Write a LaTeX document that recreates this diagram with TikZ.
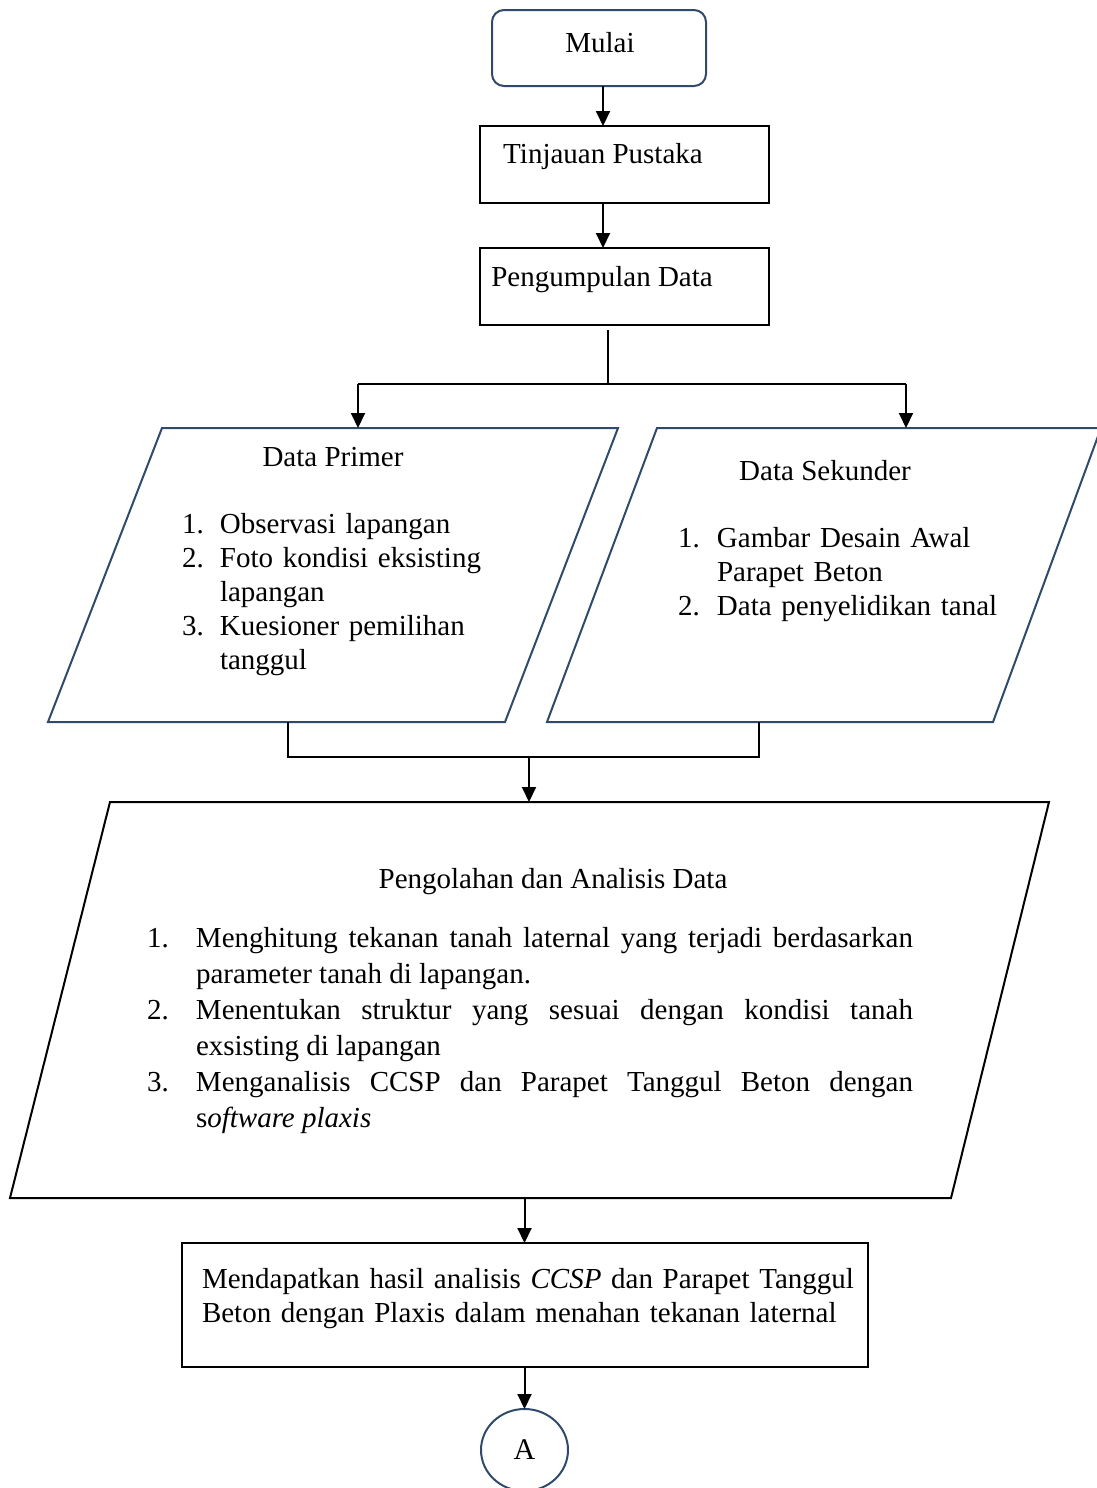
\documentclass[tikz,border=0pt]{standalone}
\usepackage{fontspec}
\setmainfont{Liberation Serif}
\usetikzlibrary{arrows.meta,shapes.geometric}
\definecolor{frameblue}{HTML}{2F4A6B}
% numbered entry with hanging indent: #1 label width, #2 label
\newcommand\itemlbl[2]{\hangindent=#1\hangafter=1\noindent\makebox[#1][l]{#2}}
\begin{document}
\begin{tikzpicture}[x=0.5pt,y=-0.5pt,
  every node/.style={inner sep=0pt,outer sep=0pt},
  line/.style={line width=1pt,draw=black},
  arr/.style={line,-{Triangle[length=7.5pt,width=7pt]}},
  txt/.style={font=\fontsize{14.5}{17}\selectfont,anchor=base},
  listtxt/.style={font=\fontsize{14.5}{17}\selectfont,anchor=base west,align=left},
  startbox/.style={draw=frameblue,line width=1pt,rounded corners=6pt,minimum width=107pt,minimum height=38pt},
  procbox/.style={draw=black,line width=1pt,minimum width=144.5pt,minimum height=38.5pt},
  iobox/.style={line width=1pt,line join=miter},
  connector/.style={ellipse,draw=frameblue,line width=1pt,minimum width=43.5pt,minimum height=41pt,font=\fontsize{15}{17}\selectfont}
]
\useasboundingbox (0,0) rectangle (1097,1488);

% start and first two steps
\node[startbox] (mulai) at (599,48) {};
\node[txt] (mulaiT) at (600,52) {Mulai};
\node[procbox] (tinjauan) at (624.5,164.5) {};
\node[txt] (tinjauanT) at (603,163) {Tinjauan Pustaka};
\node[procbox] (kumpul) at (624.5,286.5) {};
\node[txt] (kumpulT) at (602,286) {Pengumpulan Data};

% primary data (parallelogram)
\coordinate (pBL) at (48,722);
\coordinate (pTL) at (162,428);
\coordinate (pTR) at (618,428);
\coordinate (pBR) at (505,722);
\draw[iobox,draw=frameblue] (pBL) -- (pTL) -- (pTR) -- (pBR) -- cycle;
\node[txt] (primerT) at (333,466) {Data Primer};
\node[listtxt,text width=200pt] (primerL) at (182,533) {%
\itemlbl{19pt}{1.}Observasi lapangan\par
\itemlbl{19pt}{2.}Foto kondisi eksisting\newline lapangan\par
\itemlbl{19pt}{3.}Kuesioner pemilihan\newline tanggul\par};

% secondary data (parallelogram)
\coordinate (sBL) at (547,722);
\coordinate (sTL) at (657,428);
\coordinate (sTR) at (1101,428);
\coordinate (sBR) at (993,722);
\draw[iobox,draw=frameblue] (sBL) -- (sTL) -- (sTR) -- (sBR) -- cycle;
\node[txt] (sekunderT) at (825,480) {Data Sekunder};
\node[listtxt,text width=200pt] (sekunderL) at (678,547) {%
\itemlbl{19.5pt}{1.}Gambar Desain Awal\newline Parapet Beton\par
\itemlbl{19.5pt}{2.}Data penyelidikan tanal\par};

% processing and analysis (parallelogram)
\coordinate (oBL) at (10,1198);
\coordinate (oTL) at (110,802);
\coordinate (oTR) at (1049,802);
\coordinate (oBR) at (951,1198);
\draw[iobox,draw=black] (oBL) -- (oTL) -- (oTR) -- (oBR) -- cycle;
\node[txt] (olahT) at (553,888) {Pengolahan dan Analisis Data};
\node[font=\fontsize{14.5}{18}\selectfont,anchor=base west,text width=383pt,align=justify] (olahL) at (147,947) {%
\itemlbl{24.5pt}{1.}Menghitung tekanan tanah laternal yang terjadi berdasarkan\linebreak parameter tanah di lapangan.\par
\itemlbl{24.5pt}{2.}Menentukan struktur yang sesuai dengan kondisi tanah\linebreak exsisting di lapangan\par
\itemlbl{24.5pt}{3.}Menganalisis CCSP dan Parapet Tanggul Beton dengan\linebreak s\textit{oftware plaxis}\par};

% result and off-page connector
\node[draw=black,line width=1pt,minimum width=343pt,minimum height=62pt] (hasil) at (525,1305) {};
\node[listtxt,text width=335pt] (hasilT) at (202,1288) {Mendapatkan hasil analisis \textit{CCSP} dan Parapet Tanggul\newline Beton dengan Plaxis dalam menahan tekanan laternal};
\node[connector] (A) at (524.5,1450) {A};

% connectors
\draw[arr] (mulai.south -| tinjauanT) -- (tinjauan.north -| tinjauanT);
\draw[arr] (tinjauan.south -| tinjauanT) -- (kumpul.north -| tinjauanT);
\coordinate (split) at (608,384);
\coordinate (jL) at (358,384);
\coordinate (jR) at (906,384);
\draw[line,shorten <=2.5pt] (kumpul.south -| split) -- (split);
\draw[line] (jL) -- (jR);
\draw[arr] (jL) -- (jL |- pTL);
\draw[arr] (jR) -- (jR |- sTL);
\coordinate (mL) at (288,757);
\coordinate (mR) at (759,757);
\coordinate (mC) at (529,757);
\draw[line] (mL |- pBL) -- (mL) -- (mR) -- (mR |- sBL);
\draw[arr] (mC) -- (mC |- oTL);
\draw[arr] (oBL -| A) -- (hasil.north -| A);
\draw[arr] (hasil.south -| A) -- (A);
\end{tikzpicture}
\end{document}
